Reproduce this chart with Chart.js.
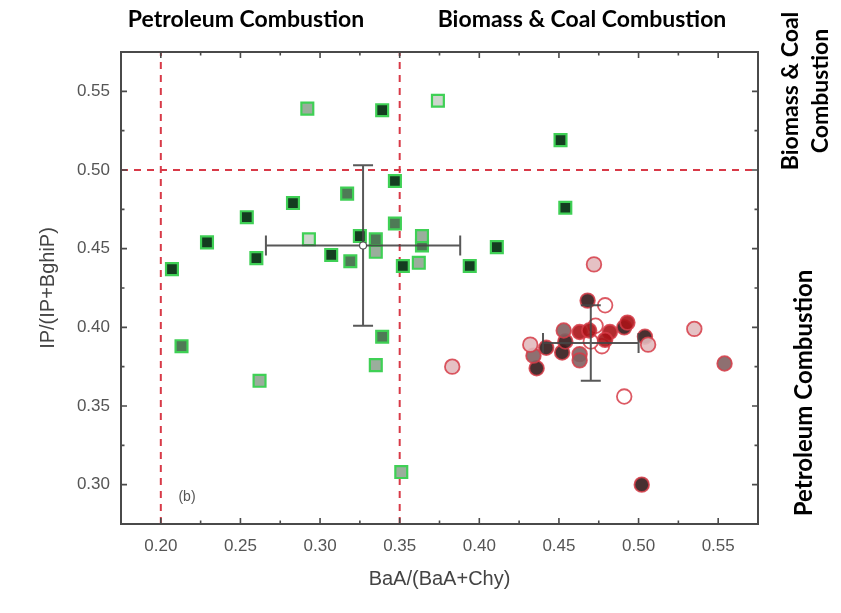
<!DOCTYPE html>
<html>
<head>
<meta charset="utf-8">
<script src="https://cdn.jsdelivr.net/npm/chart.js@4/dist/chart.umd.min.js"></script>
<style>
  html, body { margin: 0; padding: 0; background: #fff; }
  canvas { display: block; }
</style>
</head>
<body>
<canvas id="c" width="841" height="613"></canvas>
<script>
// Diagnostic ratio plot: BaA/(BaA+Chy) vs IP/(IP+BghiP)

// Axis ticks
const xTicks = [0.20, 0.25, 0.30, 0.35, 0.40, 0.45, 0.50, 0.55];
const yTicks = [0.30, 0.35, 0.40, 0.45, 0.50, 0.55];

// Source boundaries
const baaCuts = [0.20, 0.35];
const ipCuts = [0.50];

// Site group A (squares), split by fill tone
const sqDarkX = [0.207, 0.229, 0.254, 0.260, 0.283, 0.307, 0.325, 0.339, 0.347, 0.352, 0.394, 0.411, 0.451, 0.454];
const sqDarkY = [0.437, 0.454, 0.470, 0.444, 0.479, 0.446, 0.458, 0.538, 0.493, 0.439, 0.439, 0.451, 0.519, 0.476];
const sqMidX = [0.213, 0.317, 0.319, 0.335, 0.339, 0.347, 0.364];
const sqMidY = [0.388, 0.485, 0.442, 0.456, 0.394, 0.466, 0.452];
const sqLightX = [0.262, 0.292, 0.335, 0.335, 0.351, 0.362, 0.364];
const sqLightY = [0.366, 0.539, 0.448, 0.376, 0.308, 0.441, 0.458];
const sqPaleX = [0.293, 0.374];
const sqPaleY = [0.456, 0.544];

// Site group B (circles), split by fill tone
const ciDarkX = [0.436, 0.442, 0.452, 0.454, 0.468, 0.491, 0.504, 0.502];
const ciDarkY = [0.374, 0.387, 0.384, 0.391, 0.417, 0.400, 0.394, 0.300];
const ciGreyX = [0.434, 0.453, 0.463, 0.463, 0.554];
const ciGreyY = [0.382, 0.398, 0.383, 0.379, 0.377];
const ciRedX = [0.463, 0.469, 0.482, 0.493, 0.479];
const ciRedY = [0.397, 0.398, 0.397, 0.403, 0.392];
const ciPinkX = [0.383, 0.432, 0.472, 0.506, 0.535];
const ciPinkY = [0.375, 0.389, 0.440, 0.389, 0.399];
const ciOpenX = [0.473, 0.477, 0.479, 0.491, 0.470];
const ciOpenY = [0.401, 0.388, 0.414, 0.356, 0.391];

// Group means and standard deviations [BaA ratio, IP ratio]
const meanA = [0.327, 0.452];
const sdA = [0.061, 0.051];
const meanB = [0.470, 0.390];
const sdB = [0.030, 0.024];

const pts = (xs, ys) => xs.map((x, i) => ({ x: x, y: ys[i] }));

const sqBorder = '#3fd055';
const ciBorder = 'rgba(214,60,72,0.85)';

function squareSet(xs, ys, fill) {
  return {
    data: pts(xs, ys), pointStyle: 'rect', pointRadius: 8.4,
    backgroundColor: fill, borderColor: sqBorder, borderWidth: 2.2, showLine: false
  };
}
function circleSet(xs, ys, fill) {
  return {
    data: pts(xs, ys), pointStyle: 'circle', pointRadius: 7.3,
    backgroundColor: fill, borderColor: ciBorder, borderWidth: 1.8, showLine: false
  };
}

const axisFont = { family: '"Liberation Sans", Arial, sans-serif', size: 17 };
const titleFont = { family: '"Liberation Sans", Arial, sans-serif', size: 20 };

// Frame, inward ticks, dashed source boundaries, error bars and side labels
const decor = {
  id: 'decor',
  beforeDatasetsDraw(chart) {
    const { ctx, chartArea: a, scales: { x, y } } = chart;
    ctx.save();
    ctx.strokeStyle = '#d83a48';
    ctx.lineWidth = 2;
    ctx.setLineDash([7, 6]);
    baaCuts.forEach(v => {
      const px = x.getPixelForValue(v);
      ctx.beginPath(); ctx.moveTo(px, a.bottom); ctx.lineTo(px, a.top); ctx.stroke();
    });
    ipCuts.forEach(v => {
      const py = y.getPixelForValue(v);
      ctx.beginPath(); ctx.moveTo(a.left, py); ctx.lineTo(a.right, py); ctx.stroke();
    });
    ctx.restore();
  },
  afterDatasetsDraw(chart) {
    const { ctx, chartArea: a, scales: { x, y } } = chart;
    ctx.save();
    // error bars
    ctx.strokeStyle = 'rgba(70,70,70,0.9)';
    ctx.lineWidth = 2;
    const cap = 10;
    [[meanA, sdA], [meanB, sdB]].forEach(([m, s]) => {
      const cx = x.getPixelForValue(m[0]), cy = y.getPixelForValue(m[1]);
      const x0 = x.getPixelForValue(m[0] - s[0]), x1 = x.getPixelForValue(m[0] + s[0]);
      const y0 = y.getPixelForValue(m[1] - s[1]), y1 = y.getPixelForValue(m[1] + s[1]);
      ctx.beginPath();
      ctx.moveTo(x0, cy); ctx.lineTo(x1, cy);
      ctx.moveTo(cx, y0); ctx.lineTo(cx, y1);
      ctx.moveTo(x0, cy - cap); ctx.lineTo(x0, cy + cap);
      ctx.moveTo(x1, cy - cap); ctx.lineTo(x1, cy + cap);
      ctx.moveTo(cx - cap, y0); ctx.lineTo(cx + cap, y0);
      ctx.moveTo(cx - cap, y1); ctx.lineTo(cx + cap, y1);
      ctx.stroke();
    });
    // mean marker of group A
    ctx.fillStyle = '#fff';
    ctx.beginPath();
    ctx.arc(x.getPixelForValue(meanA[0]), y.getPixelForValue(meanA[1]), 3.5, 0, Math.PI * 2);
    ctx.fill(); ctx.lineWidth = 1.2; ctx.stroke();

    // frame
    ctx.strokeStyle = '#4a4a4a';
    ctx.lineWidth = 2;
    ctx.strokeRect(a.left, a.top, a.right - a.left, a.bottom - a.top);
    // inward ticks (major + minor) on all four sides
    ctx.lineWidth = 1.6;
    ctx.beginPath();
    const xMinor = xTicks.map(v => v + 0.025).concat([xTicks[0] - 0.025]);
    xTicks.forEach(v => {
      const px = x.getPixelForValue(v);
      ctx.moveTo(px, a.bottom); ctx.lineTo(px, a.bottom - 6);
      ctx.moveTo(px, a.top); ctx.lineTo(px, a.top + 6);
    });
    xMinor.forEach(v => {
      if (v <= x.min || v >= x.max) return;
      const px = x.getPixelForValue(v);
      ctx.moveTo(px, a.bottom); ctx.lineTo(px, a.bottom - 3.5);
      ctx.moveTo(px, a.top); ctx.lineTo(px, a.top + 3.5);
    });
    const yMinor = yTicks.map(v => v + 0.025).concat([yTicks[0] - 0.025]);
    yTicks.forEach(v => {
      const py = y.getPixelForValue(v);
      ctx.moveTo(a.left, py); ctx.lineTo(a.left + 6, py);
      ctx.moveTo(a.right, py); ctx.lineTo(a.right - 6, py);
    });
    yMinor.forEach(v => {
      if (v <= y.min || v >= y.max) return;
      const py = y.getPixelForValue(v);
      ctx.moveTo(a.left, py); ctx.lineTo(a.left + 3.5, py);
      ctx.moveTo(a.right, py); ctx.lineTo(a.right - 3.5, py);
    });
    ctx.stroke();

    // panel tag
    ctx.fillStyle = '#555';
    ctx.font = '14px "Liberation Sans", Arial, sans-serif';
    ctx.textAlign = 'center'; ctx.textBaseline = 'middle';
    ctx.fillText('(b)', 187, 497);

    // source region labels
    ctx.fillStyle = '#000';
    ctx.font = 'bold 23px Lato, "Open Sans", sans-serif';
    ctx.fillText('Petroleum Combustion', 246, 20);
    ctx.fillText('Biomass & Coal Combustion', 582, 20);
    ctx.save();
    ctx.translate(806, 91);
    ctx.rotate(-Math.PI / 2);
    ctx.fillText('Biomass & Coal', 0, -15);
    ctx.fillText('Combustion', 0, 15);
    ctx.restore();
    ctx.font = 'bold 24px Lato, "Open Sans", sans-serif';
    ctx.save();
    ctx.translate(804, 393);
    ctx.rotate(-Math.PI / 2);
    ctx.fillText('Petroleum Combustion', 0, 0);
    ctx.restore();
    ctx.restore();
  }
};

new Chart(document.getElementById('c'), {
  type: 'scatter',
  data: {
    datasets: [
      squareSet(sqLightX, sqLightY, '#9aae9c'),
      squareSet(sqPaleX, sqPaleY, '#cdd6cd'),
      squareSet(sqMidX, sqMidY, '#4e7a56'),
      squareSet(sqDarkX, sqDarkY, '#143d20'),
      circleSet(ciPinkX, ciPinkY, 'rgba(226,186,190,0.9)'),
      circleSet(ciGreyX, ciGreyY, 'rgba(130,96,98,0.9)'),
      circleSet(ciRedX, ciRedY, 'rgba(170,20,24,0.9)'),
      circleSet(ciDarkX, ciDarkY, 'rgba(56,30,32,0.92)'),
      circleSet(ciOpenX, ciOpenY, 'rgba(255,255,255,0.95)')
    ]
  },
  options: {
    responsive: false,
    animation: false,
    layout: { padding: { left: 30, right: 83, top: 52, bottom: 20 } },
    plugins: { legend: { display: false }, tooltip: { enabled: false } },
    scales: {
      x: {
        type: 'linear', min: 0.175, max: 0.575,
        grid: { display: false, drawTicks: false },
        border: { display: false },
        afterBuildTicks: s => { s.ticks = xTicks.map(v => ({ value: v })); },
        afterFit: s => { s.height = 69; },
        ticks: { color: '#555', font: axisFont, padding: 12, callback: v => v.toFixed(2) },
        title: { display: true, text: 'BaA/(BaA+Chy)', color: '#444', font: titleFont, padding: { top: 4, bottom: 2 } }
      },
      y: {
        type: 'linear', min: 0.275, max: 0.575,
        grid: { display: false, drawTicks: false },
        border: { display: false },
        afterBuildTicks: s => { s.ticks = yTicks.map(v => ({ value: v })); },
        afterFit: s => { s.width = 91; },
        ticks: { color: '#555', font: axisFont, padding: 11, callback: v => v.toFixed(2) },
        title: { display: true, text: 'IP/(IP+BghiP)', color: '#444', font: titleFont, padding: { top: 6, bottom: 4 } }
      }
    }
  },
  plugins: [decor]
});
</script>
</body>
</html>
